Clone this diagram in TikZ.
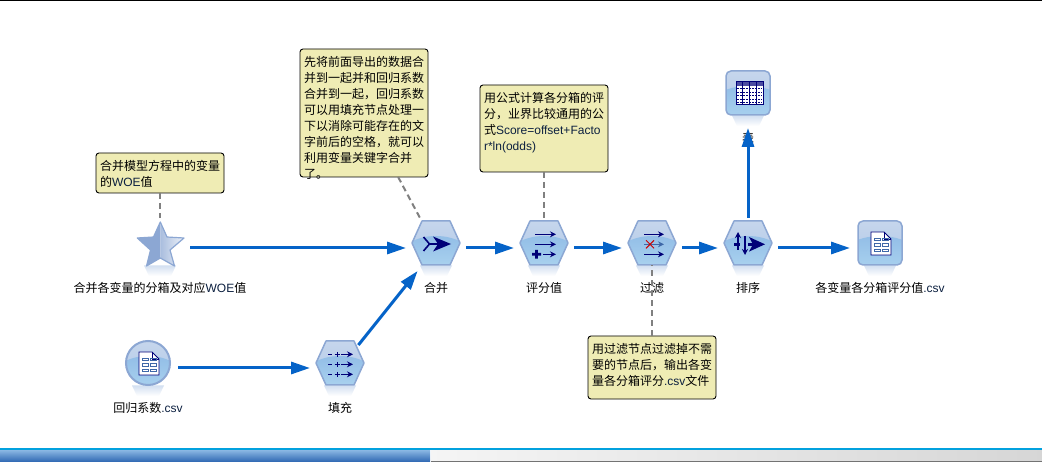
\documentclass[tikz,border=0pt]{standalone}
\usepackage{fontspec}
\setmainfont{Noto Sans CJK SC}
\newfontfamily\latfont{Liberation Sans}
\usetikzlibrary{arrows.meta}

\definecolor{flowblue}{HTML}{0563C8}
\definecolor{navyglyph}{HTML}{000078}
\definecolor{iconedge}{HTML}{8CA7D3}
\definecolor{iconupper}{HTML}{C6D6EC}
\definecolor{iconlower}{HTML}{AFC8E8}
\definecolor{glowtop}{HTML}{93BEE7}
\definecolor{glowbottom}{HTML}{B6DDF3}
\definecolor{mirrortop}{HTML}{D3E0F1}
\definecolor{glyphblue}{HTML}{3F68A8}
\definecolor{notefill}{HTML}{EFECB4}
\definecolor{linkgray}{HTML}{808080}
\definecolor{latblue}{HTML}{0C2040}

\newcommand{\lat}[1]{{\latfont\color{latblue}#1}}

\tikzset{
  iconbox/.style={rectangle, minimum width=48pt, minimum height=54pt, inner sep=0pt,
    outer xsep=6pt, outer ysep=3pt},
  namelab/.style={below, inner sep=0pt, outer sep=0pt, minimum height=16pt, yshift=-1.5pt,
    font=\fontsize{12}{16}\selectfont},
  note/.style={draw=black, line width=0.9pt, fill=notefill, rounded corners=3pt,
    text width=120pt, align=left, inner xsep=4pt, inner ysep=4pt, outer sep=0pt,
    text height=14pt, text depth=#1, font=\fontsize{12}{16}\selectfont},
  flow/.style={draw=flowblue, line width=3pt, -{Triangle[length=19pt,width=12pt]}},
  notelink/.style={draw=linkgray, line width=2pt, dash pattern=on 6pt off 4pt},
  glyphline/.style={draw=navyglyph, line width=1pt, -{Stealth[length=6pt,width=6pt]}},
  % reflection below the icon
  pics/mirror/.style={code={
    \shade[top color=mirrortop, bottom color=white] (-16,17.5) -- (16,17.5) -- (11,28) -- (-11,28) -- cycle;
  }},
  pics/hexbody/.style={code={
    \path pic {mirror};
    \begin{scope}
      \clip (-14,-27) -- (14,-27) -- (24,-5) -- (14,17) -- (-14,17) -- (-24,-5) -- cycle;
      \shade[top color=iconupper, bottom color=iconlower] (-24,-27) rectangle (24,17);
      \shade[top color=glowtop, bottom color=glowbottom] (0,12) ellipse (38 and 24);
    \end{scope}
    \draw[iconedge, line width=1.5pt, line join=round]
      (-14,-27) -- (14,-27) -- (24,-5) -- (14,17) -- (-14,17) -- (-24,-5) -- cycle;
  }},
  pics/squarebody/.style={code={
    \path pic {mirror};
    \begin{scope}
      \clip[rounded corners=5pt] (-22,-27) rectangle (22,17);
      \shade[top color=iconupper, bottom color=iconlower] (-22,-27) rectangle (22,17);
      \shade[top color=glowtop, bottom color=glowbottom] (0,14) ellipse (42 and 26);
    \end{scope}
    \draw[iconedge, line width=1.5pt, rounded corners=5pt] (-22,-27) rectangle (22,17);
  }},
  pics/roundbody/.style={code={
    \path pic {mirror};
    \begin{scope}
      \clip (0,-5) circle (22);
      \shade[top color=iconupper, bottom color=iconlower] (-22,-27) rectangle (22,17);
      \shade[top color=glowtop, bottom color=glowbottom] (0,14) ellipse (38 and 26);
    \end{scope}
    \draw[iconedge, line width=2pt] (0,-5) circle (22);
  }},
  pics/docglyph/.style={code={
    \fill[white] (-9,-16) -- (4,-16) -- (11,-9) -- (11,7) -- (-9,7) -- cycle;
    \draw[navyglyph, line width=0.8pt] (-9,-16) -- (4,-16) -- (11,-9) -- (11,7) -- (-9,7) -- cycle;
    \draw[navyglyph, line width=0.6pt] (4,-16) -- (4,-9) -- (11,-9);
    \foreach \r in {-10,-4.5,1} {
      \draw[glyphblue, line width=0.6pt] (-6,\r) rectangle (0,\r+2.5);
      \draw[glyphblue, line width=0.6pt] (2,\r) rectangle (8,\r+2.5);
    }
  }},
  pics/mergeglyph/.style={code={
    \fill[navyglyph] (15,-4) -- (-3,-11.5) -- (2,-4) -- (-3,3.5) -- cycle;
    \draw[navyglyph, line width=1.6pt] (-12.5,-11) -- (-6.5,-4) -- (-12.5,3) (-6.5,-4) -- (3,-4);
  }},
  pics/scoreglyph/.style={code={
    \draw[glyphline] (-9,-13.7) -- (12,-13.7);
    \draw[glyphline] (-9,-3.7) -- (12,-3.7);
    \draw[glyphline] (-1,6.3) -- (12,6.3);
    \fill[navyglyph] (-12,5) rectangle (-3,7.6) (-8.8,2) rectangle (-6.2,10.6);
  }},
  pics/filterglyph/.style={code={
    \draw[glyphline] (-7.7,-13.7) -- (12,-13.7);
    \draw[glyphline, draw=glyphblue] (-7.7,-3.7) -- (12,-3.7);
    \draw[glyphline] (-7.7,6.3) -- (12,6.3);
    \draw[red!80!black, line width=1pt] (-6,-7.7) -- (2,0.3) (2,-7.7) -- (-6,0.3);
  }},
  pics/sortglyph/.style={code={
    \draw[glyphline, line width=1.2pt] (-10,2) -- (-10,-16);
    \draw[glyphline, line width=1.2pt] (-3,-12) -- (-3,7);
    \draw[navyglyph, line width=2.5pt] (-14,-3.7) -- (-8,-3.7) (0,-3.7) -- (8,-3.7);
    \fill[navyglyph] (17,-3.7) -- (1,-11) -- (5,-3.7) -- (1,3.6) -- cycle;
  }},
  pics/fillglyph/.style={code={
    \foreach \r in {-13.7,-3.7,6.3} {
      \draw[navyglyph, line width=0.9pt] (-11.7,\r) -- (-8.5,\r);
      \draw[navyglyph, line width=0.9pt] (-5.5,\r) -- (-0.5,\r) (-3,\r-2.5) -- (-3,\r+2.5);
      \draw[glyphline] (1,\r) -- (13,\r);
    }
  }},
  pics/tableglyph/.style={code={
    \fill[white] (-12,-16) rectangle (15,7);
    \fill[navyglyph!70] (-12,-16) rectangle (15,-12);
    \foreach \c in {-5.2,1.5,8.2} \draw[navyglyph, line width=0.9pt] (\c,-16) -- (\c,7);
    \foreach \r in {-9.5,-6,-2.5,1,4.5} \draw[navyglyph, line width=0.6pt, dash pattern=on 2pt off 1pt]
      (-11,\r) -- (14,\r);
    \draw[navyglyph, line width=1pt] (-12,-16) rectangle (15,7);
  }},
  pics/starbody/.style={code={
    \path pic {mirror};
    \fill[iconedge] (0.3,-26) -- (-6.5,-11) -- (-22.7,-10) -- (-9.5,2) -- (-13.5,18) -- (0.3,10) -- cycle;
    \shade[left color=iconedge!75, right color=iconedge!15]
      (0.3,-26) -- (7,-11) -- (24,-10) -- (10,2) -- (14.5,18) -- (0.3,10) -- cycle;
    \draw[iconedge, line width=1.2pt, line join=round] (0.3,-26) -- (7,-11) -- (24,-10) -- (10,2)
      -- (14.5,18) -- (0.3,10) -- (-13.5,18) -- (-9.5,2) -- (-22.7,-10) -- (-6.5,-11) -- cycle;
  }},
}

\begin{document}
\begin{tikzpicture}[x=1pt, y=-1pt, line cap=butt]
  \useasboundingbox (0,0) rectangle (1042,462);
  \fill[white] (0,0) rectangle (1042,462);

  % top rule and the bar at the bottom
  \fill[black] (0,0) rectangle (1042,1);
  \shade[top color=glowtop, bottom color=glyphblue!70!flowblue] (0,449) rectangle (430,462);
  \shade[left color=black!4, right color=black!16] (431,449) rectangle (1042,461);
  \fill[black!55] (431,461) rectangle (1042,462);
  \fill[flowblue!60!cyan] (0,448) rectangle (1042,449.5);

  % icon boxes, centre sits on the arrow line
  \foreach \n/\x/\y in {star/160/248, merge/436/248, score/544/248, filter/652/248, sort/748/248,
      outfile/880/248, tablenode/748/98, coef/148/368, fillnode/340/368}
    \node[iconbox] (\n) at (\x,\y) {};

  \path (star) pic {starbody};
  \path (merge) pic {hexbody} pic {mergeglyph};
  \path (score) pic {hexbody} pic {scoreglyph};
  \path (filter) pic {hexbody} pic {filterglyph};
  \path (sort) pic {hexbody} pic {sortglyph};
  \path (fillnode) pic {hexbody} pic {fillglyph};
  \path (outfile) pic {squarebody} pic {docglyph};
  \path (tablenode) pic {squarebody} pic {tableglyph};
  \path (coef) pic {roundbody} pic {docglyph};

  % names under the icons
  \node[namelab] (lstar) at (star.south) {合并各变量的分箱及对应\lat{WOE}值};
  \node[namelab] (lmerge) at (merge.south) {合并};
  \node[namelab] (lscore) at (score.south) {评分值};
  \node[namelab] (lfilter) at (filter.south) {过滤};
  \node[namelab] (lsort) at (sort.south) {排序};
  \node[namelab] (loutfile) at (outfile.south) {各变量各分箱评分值\lat{.csv}};
  \node[namelab] (ltable) at (tablenode.south) {表};
  \node[namelab] (lcoef) at (coef.south) {回归系数\lat{.csv}};
  \node[namelab] (lfill) at (fillnode.south) {填充};

  % comment boxes
  \node[note=18pt] (note1) at (160,173) {合并模型方程中的变量\\的\lat{WOE}值};
  \node[note=106pt] (note2) at (364,113) {先将前面导出的数据合\\并到一起并和回归系数\\合并到一起，回归系数\\可以用填充节点处理一\\下以消除可能存在的文\\字前后的空格，就可以\\利用变量关键字合并\\了。};
  \node[note=65pt] (note3) at (544,128.5) {用公式计算各分箱的评\\分，业界比较通用的公\\式\lat{Score=offset+Facto}\\\lat{r*ln(odds)}};
  \node[note=41pt] (note4) at (652,367.5) {用过滤节点过滤掉不需\\要的节点后，输出各变\\量各分箱评分\lat{.csv}文件};

  % dashed links
  \draw[notelink] (note1.south) -- (star.north);
  \draw[notelink] (note2) -- (merge);
  \draw[notelink] (note3.south) -- (score.north);
  \draw[notelink, shorten >=-13pt] (note4.north) -- (filter.south);

  % flow
  \draw[flow] (star) -- (merge);
  \draw[flow] (merge) -- (score);
  \draw[flow] (score) -- (filter);
  \draw[flow] (filter) -- (sort);
  \draw[flow] (sort) -- (outfile);
  \draw[flow] (sort) -- (tablenode);
  \draw[flow] (coef) -- (fillnode);
  \draw[flow, shorten <=-9pt, shorten >=-9pt] (fillnode) -- (merge);
\end{tikzpicture}
\end{document}
